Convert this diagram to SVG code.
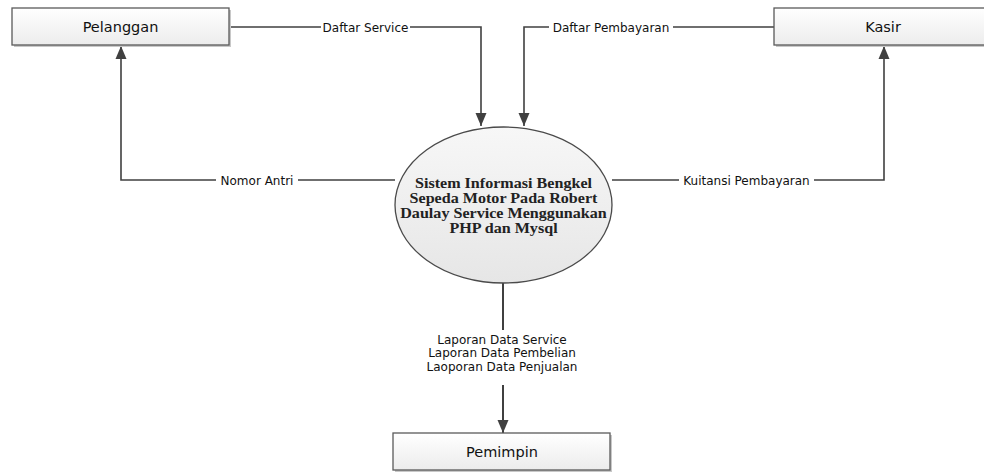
<svg xmlns="http://www.w3.org/2000/svg" width="984" height="473" viewBox="0 0 984 473">
<style>
.box{fill:url(#gbox);stroke:#5a5a5a;stroke-width:1.3}
.shadow{fill:#c8c8c8}
.btxt{font-family:"DejaVu Sans",sans-serif;font-size:14.5px;fill:#111;text-anchor:middle}
.ltxt{font-family:"DejaVu Sans",sans-serif;font-size:12px;fill:#111;text-anchor:middle}
.ptxt{font-family:"Liberation Serif","Times New Roman",serif;font-size:14px;font-weight:bold;fill:#222;text-anchor:middle}
.conn{fill:none;stroke:#404040;stroke-width:1.6}
.vconn{fill:none;stroke:#404040;stroke-width:2}
.lbg{fill:#fff}
</style>
<defs>
<linearGradient id="gbox" x1="0" y1="0" x2="0" y2="1">
<stop offset="0" stop-color="#ffffff"/>
<stop offset="1" stop-color="#ececec"/>
</linearGradient>
<linearGradient id="gell" x1="0" y1="0" x2="0" y2="1">
<stop offset="0" stop-color="#f7f7f7"/>
<stop offset="1" stop-color="#e6e6e6"/>
</linearGradient>
<marker id="arr" markerUnits="userSpaceOnUse" markerWidth="14" markerHeight="14" viewBox="0 0 14 14" refX="13" refY="7" orient="auto">
<path d="M0,1.5 L13,7 L0,12.5 Z" fill="#404040"/>
</marker>
</defs>
<rect width="984" height="473" fill="#fff"/>
<g id="connectors">
<path class="conn" d="M229,27 H481 V126" marker-end="url(#arr)"/>
<path class="conn" d="M774,27 H524 V126" marker-end="url(#arr)"/>
<path class="conn" d="M395,180 H121 V46" marker-end="url(#arr)"/>
<path class="conn" d="M612,180 H884 V46" marker-end="url(#arr)"/>
<path class="vconn" d="M503,283 V330"/>
<path class="vconn" d="M503,385 V433" marker-end="url(#arr)"/>
<rect class="lbg" x="321" y="20" width="89" height="14"/>
<text class="ltxt" x="365.5" y="31.5">Daftar Service</text>
<rect class="lbg" x="549" y="20" width="124" height="14"/>
<text class="ltxt" x="611" y="31.5">Daftar Pembayaran</text>
<rect class="lbg" x="216" y="173" width="82" height="14"/>
<text class="ltxt" x="257" y="184.5">Nomor Antri</text>
<rect class="lbg" x="679" y="173" width="135" height="14"/>
<text class="ltxt" x="746.5" y="184.5">Kuitansi Pembayaran</text>
<text class="ltxt" x="502" y="343.5">Laporan Data Service</text>
<text class="ltxt" x="502" y="357">Laporan Data Pembelian</text>
<text class="ltxt" x="502" y="370.5">Laoporan Data Penjualan</text>
</g>
<g id="pelanggan">
<rect class="shadow" x="14" y="10" width="217" height="37"/>
<rect class="box" x="12" y="8" width="217" height="37"/>
<text class="btxt" x="120.5" y="32">Pelanggan</text>
</g>
<g id="kasir">
<rect class="shadow" x="776" y="10" width="217" height="37"/>
<rect class="box" x="774" y="8" width="217" height="37"/>
<text class="btxt" x="883" y="32">Kasir</text>
</g>
<g id="pemimpin">
<rect class="shadow" x="395" y="435" width="217" height="37"/>
<rect class="box" x="393" y="433" width="217" height="37"/>
<text class="btxt" x="502" y="457">Pemimpin</text>
</g>
<g id="sistem">
<ellipse cx="503.5" cy="205" rx="108.5" ry="78" fill="url(#gell)" stroke="#4a4a4a" stroke-width="1.3"/>
<g transform="translate(503.5,0) scale(1.15,1)">
<text class="ptxt" x="0" y="188">Sistem Informasi Bengkel</text>
<text class="ptxt" x="0" y="203">Sepeda Motor Pada Robert</text>
<text class="ptxt" x="0" y="218">Daulay Service Menggunakan</text>
<text class="ptxt" x="0" y="233">PHP dan Mysql</text>
</g>
</g>
</svg>
